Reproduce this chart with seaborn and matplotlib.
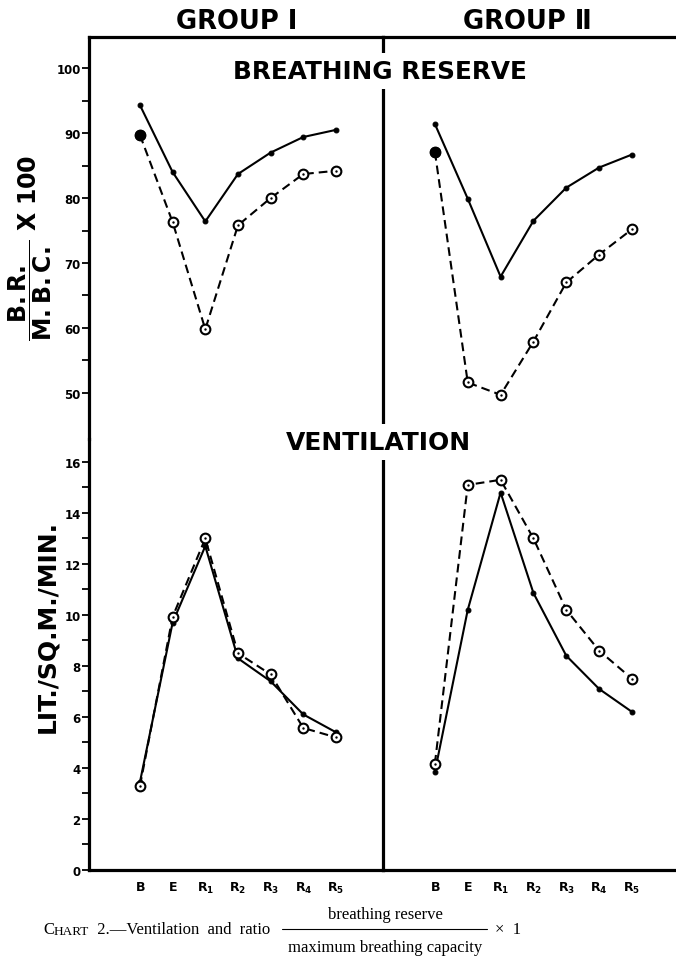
import numpy as np
import matplotlib
matplotlib.use("Agg")
import matplotlib.pyplot as plt
from matplotlib.lines import Line2D
from matplotlib.text import Annotation
from matplotlib.ticker import FixedLocator
import seaborn as sns

# stages of the test
stages = ["B", "E", "R1", "R2", "R3", "R4", "R5"]
stage_labels = [r"$\mathbf{B}$", r"$\mathbf{E}$", r"$\mathbf{R_1}$", r"$\mathbf{R_2}$",
                r"$\mathbf{R_3}$", r"$\mathbf{R_4}$", r"$\mathbf{R_5}$"]

# breathing reserve / max breathing capacity x 100
br_g1_solid = [94.3, 84.0, 76.4, 83.7, 87.0, 89.4, 90.5]
br_g1_dashed = [89.7, 76.3, 59.8, 75.8, 80.0, 83.7, 84.2]
br_g2_solid = [91.4, 79.9, 67.9, 76.5, 81.6, 84.7, 86.7]
br_g2_dashed = [87.1, 51.6, 49.7, 57.9, 67.0, 71.3, 75.2]

# ventilation, lit./sq.m./min.
vent_g1_solid = [3.45, 9.7, 12.7, 8.3, 7.4, 6.1, 5.4]
vent_g1_dashed = [3.3, 9.93, 13.0, 8.5, 7.67, 5.57, 5.2]
vent_g2_solid = [3.85, 10.2, 14.8, 10.86, 8.4, 7.1, 6.2]
vent_g2_dashed = [4.17, 15.1, 15.3, 13.0, 10.2, 8.6, 7.5]

br_ticks = [50, 60, 70, 80, 90, 100]
br_minor = [55, 65, 75, 85, 95]
vent_ticks = [0, 2, 4, 6, 8, 10, 12, 14, 16]
vent_minor = [1, 3, 5, 7, 9, 11, 13, 15]

sns.set_style("white")
plt.rcParams["font.family"] = ["DejaVu Sans"]
plt.rcParams["mathtext.fontset"] = "dejavusans"
for k in ("text.color", "axes.labelcolor", "xtick.color", "ytick.color"):
    plt.rcParams[k] = "black"

W, H = 676, 962
fig = plt.figure(figsize=(W / 100, H / 100), dpi=100)


def box(x0, y0, x1, y1):
    return [x0 / W, 1 - y1 / H, (x1 - x0) / W, (y1 - y0) / H]


ax_tl = fig.add_axes(box(89, 38, 383, 440))
ax_tr = fig.add_axes(box(383, 38, 676, 440))
ax_bl = fig.add_axes(box(89, 440, 383, 871))
ax_br = fig.add_axes(box(383, 440, 676, 871))

pos = np.arange(len(stages))


def draw(ax, solid, dashed, filled_first):
    sns.lineplot(x=pos, y=solid, ax=ax, color="black", lw=1.5, marker="o",
                 ms=3.5, mfc="black", mec="black", zorder=3)
    sns.lineplot(x=pos, y=dashed, ax=ax, color="black", lw=1.5,
                 ls=(0, (4.2, 2.4)), marker="o", ms=7, mfc="white",
                 mec="black", mew=1.5, zorder=4)
    sns.scatterplot(x=pos, y=dashed, ax=ax, color="black", s=3,
                    linewidth=0, zorder=5)
    if filled_first:
        sns.scatterplot(x=pos[:1], y=dashed[:1], ax=ax, color="black", s=65,
                        linewidth=0, zorder=6)


draw(ax_tl, br_g1_solid, br_g1_dashed, True)
draw(ax_tr, br_g2_solid, br_g2_dashed, True)
draw(ax_bl, vent_g1_solid, vent_g1_dashed, False)
draw(ax_br, vent_g2_solid, vent_g2_dashed, False)

for ax in (ax_tl, ax_bl):
    ax.set_xlim(-1.56, 7.44)
for ax in (ax_tr, ax_br):
    ax.set_xlim(-1.58, 7.34)
for ax in (ax_tl, ax_tr):
    ax.set_ylim(42.9, 104.8)
for ax in (ax_bl, ax_br):
    ax.set_ylim(0, 16.9)

for ax in (ax_tl, ax_tr, ax_bl, ax_br):
    ax.set_facecolor("none")
    ax.set_xlabel("")
    ax.set_ylabel("")
    for s in ax.spines.values():
        s.set_linewidth(2.3)
        s.set_color("black")
        s.set_visible(False)

ax_tl.spines["top"].set_visible(True)
ax_tl.spines["left"].set_visible(True)
ax_tl.spines["right"].set_visible(True)
ax_tr.spines["top"].set_visible(True)
ax_bl.spines["left"].set_visible(True)
ax_bl.spines["right"].set_visible(True)
ax_bl.spines["bottom"].set_visible(True)
ax_br.spines["bottom"].set_visible(True)

# y ticks
ax_tl.set_yticks(br_ticks)
ax_tl.yaxis.set_minor_locator(FixedLocator(br_minor))
ax_bl.set_yticks(vent_ticks)
ax_bl.yaxis.set_minor_locator(FixedLocator(vent_minor))
for ax in (ax_tl, ax_bl):
    ax.tick_params(axis="y", which="both", left=True, direction="out",
                   length=5, width=1.3, pad=1, labelsize=8.5, color="black")
    for lab in ax.get_yticklabels():
        lab.set_fontweight("bold")
for ax in (ax_tr, ax_br):
    ax.tick_params(axis="y", which="both", left=False, labelleft=False)

# x ticks
for ax in (ax_tl, ax_tr):
    ax.set_xticks([])
for ax in (ax_bl, ax_br):
    ax.set_xticks(pos, stage_labels)
    ax.tick_params(axis="x", length=0, pad=7, labelsize=9)

# headings
fig.text(237 / W, 1 - 22 / H, "GROUP Ⅰ", ha="center", va="center",
         fontsize=18.5, fontweight="bold")
fig.text(527 / W, 1 - 22 / H, "GROUP Ⅱ", ha="center", va="center",
         fontsize=18.5, fontweight="bold")
fig.text(380 / W, 1 - 72 / H, "BREATHING RESERVE", ha="center", va="center",
         fontsize=17.8, fontweight="bold",
         bbox=dict(fc="white", ec="none", pad=4.5))
fig.text(378 / W, 1 - 443 / H, "VENTILATION", ha="center", va="center",
         fontsize=18, fontweight="bold",
         bbox=dict(fc="white", ec="none", pad=4.5))

# y axis titles
fig.text(30 / W, 1 - 248 / H,
         r"$\dfrac{\mathbf{B.R.}}{\mathbf{M.B.C.}}\ \mathbf{X\ 100}$",
         rotation=90, ha="center", va="center", fontsize=17)
fig.text(47 / W, 1 - 627 / H, "LIT./SQ.M./MIN.", rotation=90,
         ha="center", va="center", fontsize=18, fontweight="bold")

# caption
serif = "Liberation Serif"
c1 = fig.text(43 / W, 1 - 930 / H, "C", fontsize=12, family=serif,
              ha="left", va="center")
c2 = fig.add_artist(Annotation(
    "HART", xy=(1, 0), xycoords=c1, ha="left", va="bottom",
    fontsize=9.5, family=serif))
c3 = fig.add_artist(Annotation(
    "  2.—Ventilation  and  ratio", xy=(1, 0), xycoords=c2, ha="left",
    va="bottom", fontsize=12, family=serif))
fig.text(385 / W, 1 - 915 / H, "breathing reserve", fontsize=12, family=serif,
         ha="center", va="center")
fig.text(385 / W, 1 - 948 / H, "maximum breathing capacity", fontsize=12,
         family=serif, ha="center", va="center")
fig.add_artist(Line2D([282 / W, 487 / W], [1 - 930 / H, 1 - 930 / H],
                      color="black", lw=0.8))
fig.text(495 / W, 1 - 930 / H, "×  1", fontsize=12, family=serif,
         ha="left", va="center")

fig.savefig("out.png", dpi=100)
